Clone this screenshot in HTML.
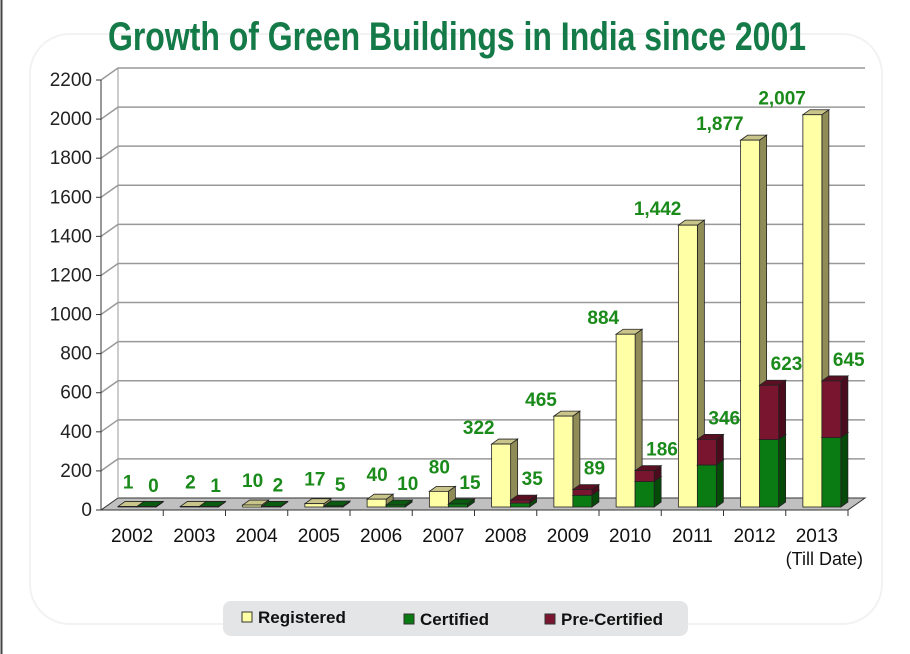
<!DOCTYPE html>
<html><head><meta charset="utf-8"><style>
html,body{margin:0;padding:0;background:#fff;}
svg{display:block;font-family:"Liberation Sans",Arial,sans-serif;}
</style></head><body>
<svg id="chart" width="910" height="654" viewBox="0 0 910 654">
<line x1="1.5" y1="0" x2="1.5" y2="654" stroke="#444" stroke-width="2"/>
<rect x="30" y="34" width="852" height="590" rx="40" fill="#fff" stroke="#f2f2f2" stroke-width="2"/>
<text x="457" y="50" text-anchor="middle" font-family="'Liberation Sans Narrow','Liberation Sans',sans-serif" font-weight="bold" font-size="40" fill="#147a48" textLength="698" lengthAdjust="spacingAndGlyphs">Growth of Green Buildings in India since 2001</text>
<g id="grid"></g>
<g id="bars"></g>
<g id="labels"></g>
<g>
<rect x="223" y="601" width="465" height="35" rx="8" fill="#e4e5e6"/>
<g><rect x="242" y="612" width="10" height="10" fill="#ffffa6" stroke="#333" stroke-width="1"/><text x="258" y="623" font-weight="bold" font-size="17" fill="#111">Registered</text></g>
<g><rect x="404" y="614" width="10" height="10" fill="#0a7a12" stroke="#333" stroke-width="1"/><text x="420" y="625" font-weight="bold" font-size="17" fill="#111">Certified</text></g>
<g><rect x="545" y="614" width="10" height="10" fill="#7a1530" stroke="#333" stroke-width="1"/><text x="561" y="625" font-weight="bold" font-size="17" fill="#111">Pre-Certified</text></g>
</g>
</svg>
<script>
const categories = ["2002","2003","2004","2005","2006","2007","2008","2009","2010","2011","2012","2013"];
const registered = [1,2,10,17,40,80,322,465,884,1442,1877,2007];
const certified = [0,1,2,5,10,15,20,60,130,215,345,355];
const preCertified = [0,0,0,0,0,0,15,29,56,131,278,290];
const registeredLabels = ["1","2","10","17","40","80","322","465","884","1,442","1,877","2,007"];
const certTotalLabels = ["0","1","2","5","10","15","35","89","186","346","623","645"];
const yTicks = [0,200,400,600,800,1000,1200,1400,1600,1800,2000,2200];

const NS="http://www.w3.org/2000/svg";
const X0=101, X1=848, Y0=510, DX=17, DY=-12, SCALE=(510-80)/2200;
const BASE=507, BD=7, BDY=-5;
const bw=(X1-X0)/categories.length;
function yv(v){return Y0-v*SCALE;}
function xc(i){return X0+bw*(i+0.5);}
function mk(tag,attrs,parent){const e=document.createElementNS(NS,tag);for(const k in attrs)e.setAttribute(k,attrs[k]);parent.appendChild(e);return e;}
const grid=document.getElementById('grid'),bars=document.getElementById('bars'),labels=document.getElementById('labels');

const floor=mk('polygon',{points:`${X0},${Y0} ${X1},${Y0} ${X1+DX},${Y0+DY} ${X0+DX},${Y0+DY}`,fill:'#c0c0c0',stroke:'#333','stroke-width':1},grid);


yTicks.forEach(t=>{
  const y=yv(t);
  if(t>0){
    const g=mk('polyline',{points:`${X0},${y} ${X0+DX},${y+DY} ${X1+DX},${y+DY}`,fill:'none',stroke:'#999','stroke-width':1.5},grid);
    
    
  }
  mk('line',{x1:X0-5,y1:y,x2:X0,y2:y,stroke:'#333'},grid);
  const tl=mk('text',{x:X0-9,y:y+6,'text-anchor':'end','font-size':19,fill:'#222'},grid);
  tl.textContent=t;
  
  
});
const ax=mk('line',{x1:X0,y1:yv(2200),x2:X0,y2:Y0,stroke:'#333'},grid);


mk('line',{x1:X0+DX,y1:yv(2200)+DY,x2:X0+DX,y2:Y0+DY,stroke:'#999'},grid);
mk('line',{x1:X0,y1:Y0,x2:X1,y2:Y0,stroke:'#333'},grid);
categories.forEach((c,i)=>{
  const xt=X0+bw*(i+1);
  mk('line',{x1:xt,y1:Y0,x2:xt,y2:Y0+6,stroke:'#333'},grid);
  const cl=mk('text',{x:xc(i),y:Y0+32,'text-anchor':'middle','font-size':19,fill:'#111'},grid);
  cl.textContent=c;
  
  
});
const td=mk('text',{x:X1+15,y:Y0+55,'text-anchor':'end','font-size':18,fill:'#111'},grid);
td.textContent='(Till Date)';



function box(x,w,v0,v1,front,side,top,name){
  const y0=BASE-v0*SCALE, y1=BASE-v1*SCALE;
  const g=mk('g',{},bars);
  
  
  mk('polygon',{points:`${x+w},${y0} ${x+w+BD},${y0+BDY} ${x+w+BD},${y1+BDY} ${x+w},${y1}`,fill:side,stroke:'#222','stroke-width':0.8},g);
  mk('polygon',{points:`${x},${y1} ${x+BD},${y1+BDY} ${x+w+BD},${y1+BDY} ${x+w},${y1}`,fill:top,stroke:'#222','stroke-width':0.8},g);
  mk('rect',{x:x,y:y1,width:w,height:Math.max(0,y0-y1),fill:front,stroke:'#222','stroke-width':0.8},g);
}
categories.forEach((c,i)=>{
  const c0=xc(i), yl=c0-14, gl=c0+5, w=19;
  box(yl,w,0,Math.max(registered[i],3),'#ffffa6','#8f8c57','#c9c48a','bar-registered-'+c);
  box(gl,w,0,Math.max(certified[i],3),'#0a7a12','#064a0a','#0a5a10','bar-certified-'+c);
  if(preCertified[i]>0) box(gl,w,certified[i],certified[i]+preCertified[i],'#7a1530','#4a0c1c','#5a1022','bar-pre-certified-'+c);
  const rt=BASE-Math.max(registered[i],3)*SCALE;
  const r=mk('text',{x:yl+(i<6?10:3),y:rt-(i<6?18:10),'text-anchor':i<6?'middle':'end','font-size':19,'font-weight':'bold',fill:'#1a8a1a'},labels);
  r.textContent=registeredLabels[i];
  
  
  const tt=BASE-(certified[i]+preCertified[i])*SCALE;
  const cl=mk('text',{x:gl+w-8,y:Math.min(tt-15,492),'text-anchor':'start','font-size':19,'font-weight':'bold',fill:'#1a8a1a'},labels);
  cl.textContent=certTotalLabels[i];
  
  
});
</script>
</body></html>
